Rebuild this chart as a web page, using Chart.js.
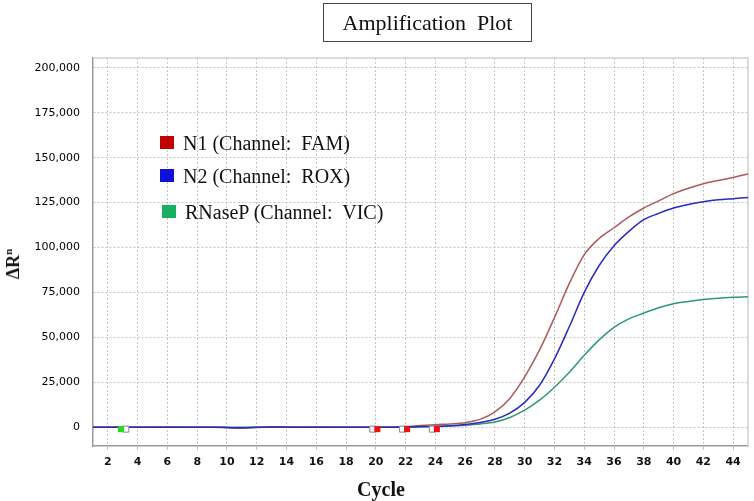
<!DOCTYPE html>
<html>
<head>
<meta charset="utf-8">
<script src="https://cdn.jsdelivr.net/npm/chart.js@4"></script>
<style>
  html, body { margin: 0; padding: 0; background: #fff; }
  #wrap { position: relative; width: 754px; height: 501px; overflow: hidden; }
  #titleBox { position: absolute; left: 323px; top: 3px; width: 207px; height: 37px; border: 1px solid #444;
    font-family: "Liberation Serif", "Times New Roman", serif; font-size: 22px; color: #111;
    display: flex; align-items: center; justify-content: center; white-space: pre; box-sizing: content-box; }
  .legend { position: absolute; left: 160px; font-family: "Liberation Serif", serif; font-size: 20px; color: #111; white-space: pre; }
  .legend .sw { position: absolute; left: 0; width: 14px; height: 13px; }
  .legend .tx { position: absolute; left: 23px; line-height: 20px; }
  #ytitle { position: absolute; left: 13px; top: 264px; transform: translate(-50%, -50%) rotate(-90deg);
    font-family: "Liberation Serif", serif; font-weight: bold; font-size: 18px; color: #111; white-space: pre; }
  #xtitle { position: absolute; left: 381px; top: 489px; transform: translate(-50%, -50%);
    font-family: "Liberation Serif", serif; font-weight: bold; font-size: 20px; color: #111; white-space: pre; }
</style>
</head>
<body>
<div id="wrap">
  <canvas id="c" width="754" height="501"></canvas>
  <div id="titleBox">Amplification  Plot</div>
  <div id="ytitle">ΔR<sup style="font-size:11px">n</sup></div>
  <div id="xtitle">Cycle</div>
  <div id="legend"></div>
</div>
<script>
// ---- data ----
const cycles = [1,2,3,4,5,6,7,8,9,10,11,12,13,14,15,16,17,18,19,20,21,22,23,24,25,26,27,28,29,30,31,32,33,34,35,36,37,38,39,40,41,42,43,44,45];
const n1Values = [0,0,100,0,0,100,0,0,0,-300,-600,-200,200,100,0,100,0,-100,0,0,100,300,900,1400,1800,2500,4300,8500,16000,28000,43000,61000,80000,96000,105000,111000,117000,122000,126000,130000,133000,135500,137300,139000,141000];
const n2Values = [0,0,0,0,0,0,0,0,0,-200,-400,-100,100,0,-100,0,0,0,0,0,0,100,300,500,800,1500,2600,4400,7800,13800,23300,38000,56000,75000,90000,101000,109000,115500,119000,122000,124000,125500,126600,127200,127800];
const rnasePValues = [0,0,0,0,0,0,0,0,0,0,-100,0,0,0,0,0,0,0,0,0,0,0,100,300,600,1100,1800,2900,5400,9500,15000,22200,30600,40000,48600,55600,60300,63500,66500,68700,70000,71000,71800,72300,72600];
const seriesNames = ["N1 (Channel:  FAM)", "N2 (Channel:  ROX)", "RNaseP (Channel:  VIC)"];
const xTickValues = [2,4,6,8,10,12,14,16,18,20,22,24,26,28,30,32,34,36,38,40,42,44];
const yTickValues = [0,25000,50000,75000,100000,125000,150000,175000,200000];
// threshold-crossing markers (cycle, value)
const ctMarkerCycles = [2.88, 20.1, 22.1, 24.1];
const ctMarkerValue = -1100;
const ctOpenCycles = [3.2, 19.8, 21.8, 23.8];

const lineColors = ["#b05858", "#2a2ac0", "#2e9a6c"];
const swatchColors = ["#c00000", "#1010d8", "#18b060"];
const markerColors = ["#22dd22", "#ee1111", "#ee1111", "#ee1111"];

function pts(vals) { return cycles.map((c, i) => ({ x: c, y: vals[i] })); }

// legend (HTML text)
const legTops = [143, 176, 212];
const leg = document.getElementById('legend');
seriesNames.forEach((n, i) => {
  const d = document.createElement('div');
  d.className = 'legend';
  d.style.top = (legTops[i] - 10) + 'px';
  d.style.left = (i === 2 ? 162 : 160) + 'px';
  d.innerHTML = '<div class="sw" style="top:3px;background:' + swatchColors[i] + '"></div><div class="tx"></div>';
  d.querySelector('.tx').textContent = n;
  leg.appendChild(d);
});

const borderPlugin = {
  id: 'borderPlugin',
  beforeDatasetsDraw(chart) {
    const a = chart.chartArea, ctx = chart.ctx;
    ctx.save();
    ctx.setLineDash([]);
    ctx.strokeStyle = '#cfcfcf';
    ctx.lineWidth = 1.5;
    ctx.beginPath();
    ctx.moveTo(a.left, a.top); ctx.lineTo(a.right, a.top); ctx.lineTo(a.right, a.bottom);
    ctx.stroke();
    ctx.restore();
  }
};

new Chart(document.getElementById('c'), {
  type: 'line',
  data: {
    datasets: [
      { label: seriesNames[1], data: pts(n2Values), borderColor: lineColors[1], borderWidth: 1.5, pointRadius: 0, cubicInterpolationMode: 'monotone', order: 2 },
      { label: seriesNames[0], data: pts(n1Values), borderColor: lineColors[0], borderWidth: 1.5, pointRadius: 0, cubicInterpolationMode: 'monotone', order: 3 },
      { label: seriesNames[2], data: pts(rnasePValues), borderColor: lineColors[2], borderWidth: 1.5, pointRadius: 0, cubicInterpolationMode: 'monotone', order: 4 },
      { label: 'ct', data: ctMarkerCycles.map(c => ({ x: c, y: ctMarkerValue })), showLine: false, pointStyle: 'rect',
        pointRadius: 4.3, backgroundColor: markerColors, borderColor: markerColors, borderWidth: 0, order: 0 },
      { label: 'ctOpen', data: ctOpenCycles.map(c => ({ x: c, y: ctMarkerValue })), showLine: false, pointStyle: 'rect',
        pointRadius: 4.3, backgroundColor: '#ffffff', borderColor: '#888888', borderWidth: 1, order: 1 }
    ]
  },
  options: {
    responsive: false,
    animation: false,
    events: [],
    layout: { padding: { top: 58, right: 6, left: 0, bottom: 0 } },
    plugins: { legend: { display: false }, tooltip: { enabled: false }, title: { display: false } },
    scales: {
      x: {
        type: 'linear', min: 1, max: 45,
        afterBuildTicks: s => { s.ticks = xTickValues.map(v => ({ value: v })); },
        afterFit: s => { s.height = 55; },
        grid: { color: '#c4c4c4', tickLength: 4, drawTicks: true, tickColor: '#c4c4c4' },
        border: { display: true, color: '#9a9a9a', width: 1.5, dash: [2, 2] },
        ticks: { font: { family: 'DejaVu Sans', size: 11, weight: 'bold' }, color: '#111', padding: 6, maxRotation: 0, autoSkip: false,
          callback: v => String(v) }
      },
      y: {
        type: 'linear', min: -10500, max: 205500,
        afterBuildTicks: s => { s.ticks = yTickValues.map(v => ({ value: v })); },
        afterFit: s => { s.width = 93; },
        grid: { color: '#c4c4c4', drawTicks: false },
        border: { display: true, color: '#9a9a9a', width: 1.5, dash: [2, 2] },
        ticks: { font: { family: 'DejaVu Sans', size: 11 }, color: '#000', padding: 13, autoSkip: false,
          callback: v => v.toLocaleString('en-US') }
      }
    }
  },
  plugins: [borderPlugin]
});
</script>
</body>
</html>
